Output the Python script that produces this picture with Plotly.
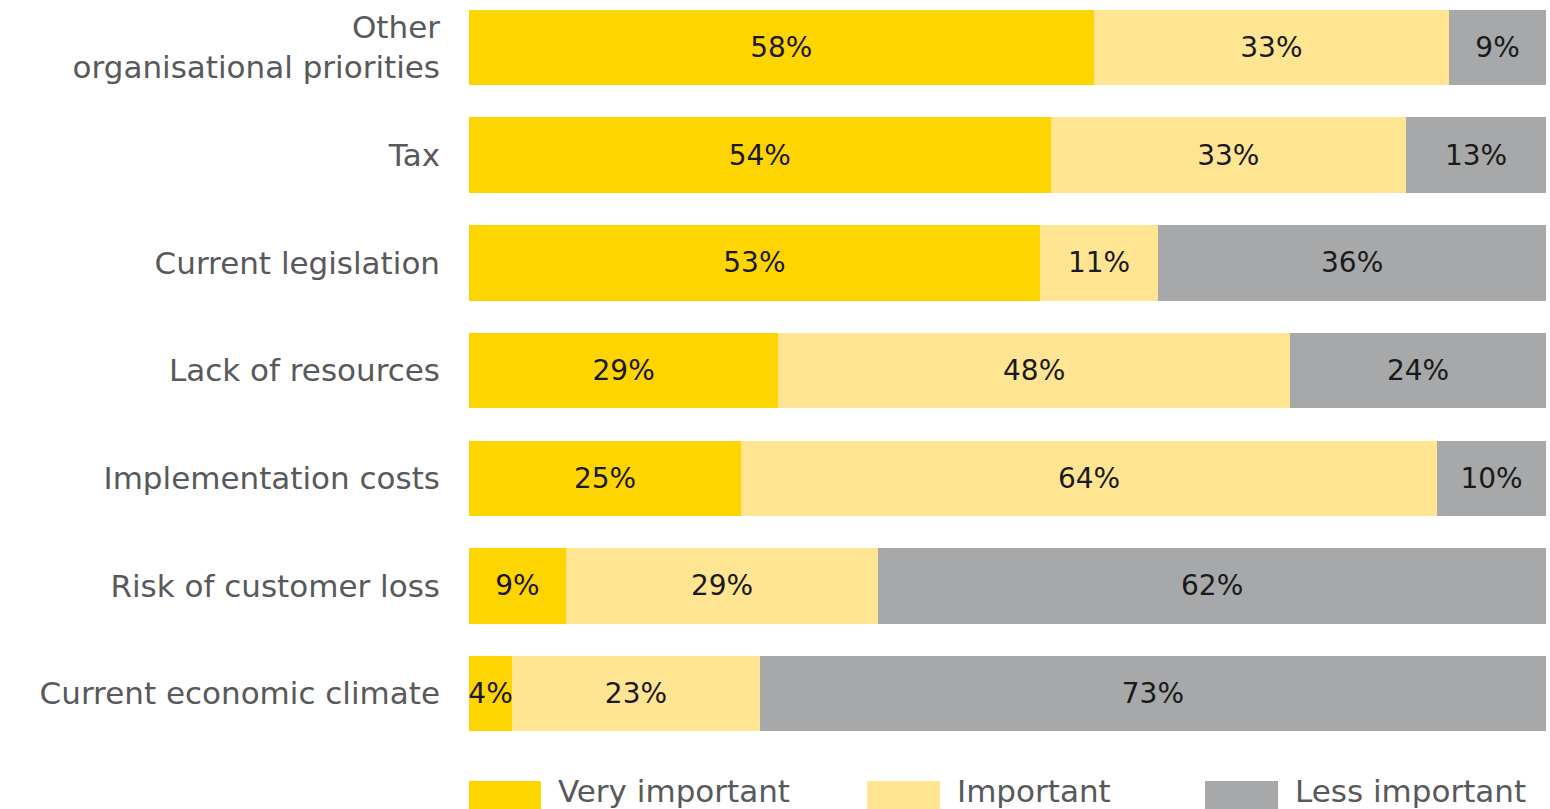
import plotly.graph_objects as go

categories = ["Current economic climate", "Risk of customer loss", "Implementation costs",
              "Lack of resources", "Current legislation", "Tax",
              "Other<br>organisational priorities"]
very_important = [4, 9, 25, 29, 53, 54, 58]
important = [23, 29, 64, 48, 11, 33, 33]
less_important = [73, 62, 10, 24, 36, 13, 9]

series = [("Very important", very_important, "#FFD500"),
          ("Important", important, "#FFE591"),
          ("Less important", less_important, "#A7A8AA")]

FONT = "DejaVu Sans"
fig = go.Figure()
for name, vals, color in series:
    fig.add_trace(go.Bar(
        y=categories, x=vals, name=name, orientation="h",
        marker=dict(color=color, line=dict(width=0)),
        text=[f"{v}%" for v in vals], textposition="inside", textangle=0,
        insidetextanchor="middle", constraintext="none",
        textfont=dict(family=FONT, size=28, color="#1a1a1a"),
        showlegend=False,
    ))

fig.update_layout(
    barmode="stack", barnorm="percent", bargap=0.30,
    width=1550, height=809,
    margin=dict(l=469, r=4, t=0, b=64),
    plot_bgcolor="white", paper_bgcolor="white",
    uniformtext=dict(minsize=28, mode="show"),
    xaxis=dict(visible=False, range=[0, 100], fixedrange=True),
    yaxis=dict(range=[-0.478, 6.441], showgrid=False, zeroline=False, showline=False,
               ticks="", ticklabelstandoff=28,
               tickfont=dict(family=FONT, size=31, color="#58595B")),
)

# Custom legend keys
legend_items = [("Very important", "#FFD500", 0.0, 0.0668),
                ("Important", "#FFE591", 0.3696, 0.4374),
                ("Less important", "#A7A8AA", 0.6834, 0.7512)]
for label, color, x0, x1 in legend_items:
    fig.add_shape(type="rect", xref="paper", yref="paper", x0=x0, x1=x1,
                  y0=-0.0483, y1=-0.10, fillcolor=color, line=dict(width=0))
    fig.add_annotation(xref="paper", yref="paper", x=x1 + 0.014, y=-0.062,
                       xanchor="left", yanchor="middle", showarrow=False,
                       text=label, font=dict(family=FONT, size=31, color="#58595B"))

fig.write_html("out.html")
